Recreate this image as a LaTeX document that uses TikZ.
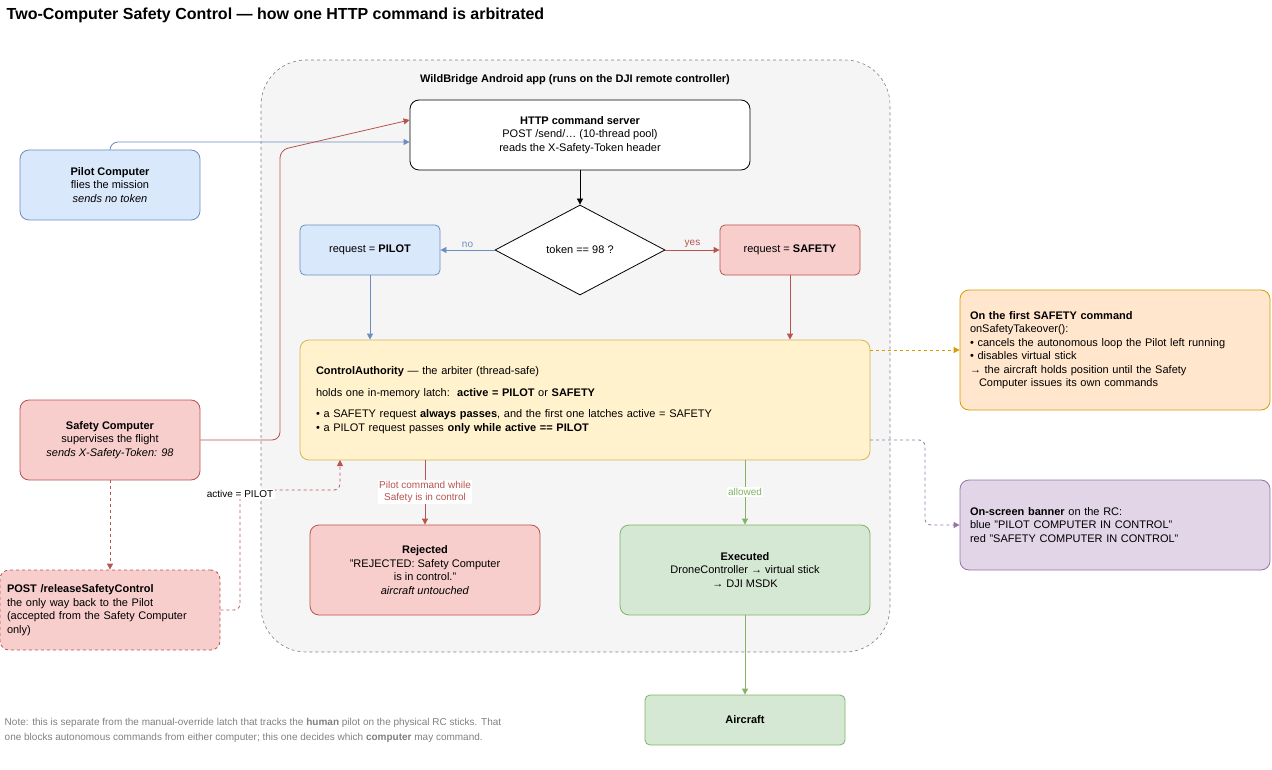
\documentclass[tikz,border=0pt]{standalone}
\usepackage{fontspec}
\setmainfont{Liberation Sans}
\usetikzlibrary{arrows.meta, shapes.geometric}
\definecolor{BLUEfill}{HTML}{dae8fc}
\definecolor{BLUEline}{HTML}{6c8ebf}
\definecolor{REDfill}{HTML}{f8cecc}
\definecolor{REDline}{HTML}{b85450}
\definecolor{YELfill}{HTML}{fff2cc}
\definecolor{YELline}{HTML}{d6b656}
\definecolor{GRNfill}{HTML}{d5e8d4}
\definecolor{GRNline}{HTML}{82b366}
\definecolor{ORGfill}{HTML}{ffe6cc}
\definecolor{ORGline}{HTML}{d79b00}
\definecolor{PURfill}{HTML}{e1d5e7}
\definecolor{PURline}{HTML}{9673a6}
\begin{document}
\begin{tikzpicture}[x=1pt, y=-1pt, line width=0.8pt,
        font=\fontsize{11}{13.5}\selectfont,
        box/.style={draw, rounded corners=9pt, align=center, inner sep=0pt},
        arr/.style={-{Triangle[length=6pt, width=6pt]}},
        lbl/.style={fill=white, inner sep=1.5pt, font=\fontsize{10}{12}\selectfont, align=center},
    ]
    \useasboundingbox (0,0) rectangle (1272,770);

    % 标题与容器
    \node [anchor=west, font=\fontsize{16}{18}\selectfont\bfseries] (title) at (3,15) {Two-Computer Safety Control — how one HTTP command is arbitrated};
    \draw [gray, dashed, fill=gray!8, rounded corners=45pt, line width=0.6pt] (261,60) rectangle (890,652);
    \node [font=\fontsize{11}{13}\selectfont\bfseries] (app) at (575,80) {WildBridge Android app (runs on the DJI remote controller)};

    % 节点
    \node [box, fill=white, minimum width=340pt, minimum height=70pt] (server) at (580,135)
    {\textbf{HTTP command server}\\POST /send/… (10-thread pool)\\reads the X-Safety-Token header};
    \node [box, fill=BLUEfill, draw=BLUEline, minimum width=180pt, minimum height=70pt] (pilot) at (110,185)
    {\textbf{Pilot Computer}\\flies the mission\\\textit{sends no token}};
    \node [draw, shape=diamond, shape aspect=1.89, fill=white, minimum width=170pt, minimum height=90pt, inner sep=0pt] (token) at (580,250) {token == 98 ?};
    \node [box, rounded corners=5pt, fill=BLUEfill, draw=BLUEline, minimum width=140pt, minimum height=50pt] (reqP) at (370,250) {request = \textbf{PILOT}};
    \node [box, rounded corners=5pt, fill=REDfill, draw=REDline, minimum width=140pt, minimum height=50pt] (reqS) at (790,250) {request = \textbf{SAFETY}};
    \node [box, fill=YELfill, draw=YELline, minimum width=570pt, minimum height=120pt, align=left, text width=538pt] (ca) at (585,400)
    {\textbf{ControlAuthority} — the arbiter (thread-safe)\\[8pt]
     holds one in-memory latch:\ \ \textbf{active = PILOT} or \textbf{SAFETY}\\[8pt]
     • a SAFETY request \textbf{always passes}, and the first one latches active = SAFETY\\
     • a PILOT request passes \textbf{only while active == PILOT}};
    \node [box, fill=REDfill, draw=REDline, minimum width=180pt, minimum height=80pt] (safety) at (110,440)
    {\textbf{Safety Computer}\\supervises the flight\\\textit{sends X-Safety-Token: 98}};
    \node [box, dashed, fill=REDfill, draw=REDline, minimum width=220pt, minimum height=80pt, align=left, text width=206pt] (release) at (110,610)
    {\textbf{POST /releaseSafetyControl}\\the only way back to the Pilot\\(accepted from the Safety Computer\\only)};
    \node [box, fill=REDfill, draw=REDline, minimum width=230pt, minimum height=90pt] (rejected) at (425,570)
    {\textbf{Rejected}\\"REJECTED: Safety Computer\\is in control."\\\textit{aircraft untouched}};
    \node [box, fill=GRNfill, draw=GRNline, minimum width=250pt, minimum height=90pt] (executed) at (745,570)
    {\textbf{Executed}\\DroneController → virtual stick\\→ DJI MSDK};
    \node [box, rounded corners=5pt, fill=GRNfill, draw=GRNline, minimum width=200pt, minimum height=50pt] (aircraft) at (745,720) {\textbf{Aircraft}};
    \node [box, fill=ORGfill, draw=ORGline, minimum width=310pt, minimum height=120pt, align=left, text width=290pt] (takeover) at (1115,350)
    {\textbf{On the first SAFETY command}\\onSafetyTakeover():\\• cancels the autonomous loop the Pilot left running\\• disables virtual stick\\→ the aircraft holds position until the Safety\\\hspace*{9pt}Computer issues its own commands};
    \node [box, fill=PURfill, draw=PURline, minimum width=310pt, minimum height=90pt, align=left, text width=290pt] (banner) at (1115,525)
    {\textbf{On-screen banner} on the RC:\\blue "PILOT COMPUTER IN CONTROL"\\red "SAFETY COMPUTER IN CONTROL"};
    \node [anchor=north west, align=left, text=gray, font=\fontsize{10}{15}\selectfont] (note) at (1,715)
    {Note: this is separate from the manual-override latch that tracks the \textbf{human} pilot on the physical RC sticks. That\\one blocks autonomous commands from either computer; this one decides which \textbf{computer} may command.};

    % 连线
    \draw [arr, BLUEline, rounded corners=8pt] (pilot.north) |- ([yshift=-7pt] server.west);
    \draw [arr, REDline, rounded corners=8pt] (safety.east) -| (280,150) -- ([yshift=15pt] server.west);
    \draw [arr, black] (server.south) -- (token.north);
    \draw [arr, BLUEline] (token.west) -- (reqP.east) node [lbl, midway, above=1pt, fill=none] {no};
    \draw [arr, REDline] (token.east) -- (reqS.west) node [lbl, midway, above=1pt, fill=none] {yes};
    \draw [arr, BLUEline] (reqP.south) -- (reqP.south |- ca.north);
    \draw [arr, REDline] (reqS.south) -- (reqS.south |- ca.north);
    \draw [arr, REDline] (425,460) -- (rejected.north) node [lbl, midway] {Pilot command while\\Safety is in control};
    \draw [arr, GRNline] (745,460) -- (executed.north) node [lbl, midway] {allowed};
    \draw [arr, GRNline] (executed.south) -- (aircraft.north);
    \draw [arr, ORGline, dashed] (870,350) -- (takeover.west);
    \draw [arr, PURline, dashed, rounded corners=6pt] (870,440) -| (925,525) -- (banner.west);
    \draw [arr, REDline, dashed] (safety.south) -- (release.north);
    \draw [arr, REDline, dashed, rounded corners=6pt] (release.east) -| (240,490) -| (340,460);
    \node [lbl] (latch) at (240,494) {active = PILOT};
\end{tikzpicture}
\end{document}
